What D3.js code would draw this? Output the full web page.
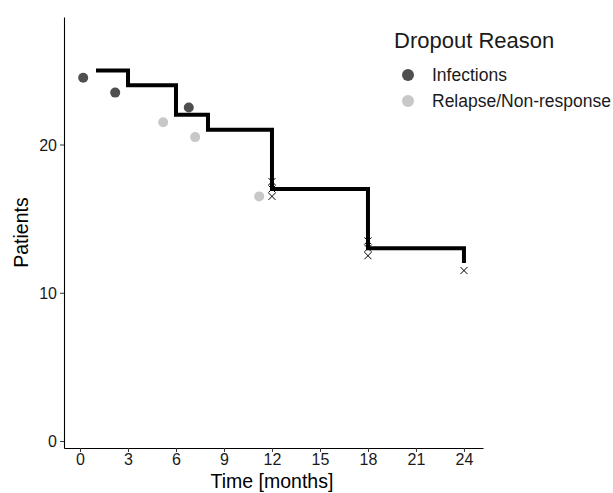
<!DOCTYPE html>
<html>
<head>
<meta charset="utf-8">
<script src="https://cdn.jsdelivr.net/npm/d3@7"></script>
<style>
  body { margin: 0; background: #fff; }
  text { font-family: "Liberation Sans", Arial, sans-serif; }
</style>
</head>
<body>
<svg id="chart" width="613" height="493"></svg>
<script>
// step curve (patients remaining)
const stepTimes = [1, 3, 6, 8, 12, 18, 24];
const stepPatients = [25, 24, 22, 21, 17, 13, 12];

// dropouts
const dropoutTimes = [0.2, 2.2, 6.8, 5.2, 7.2, 11.2];
const dropoutPatients = [24.5, 23.5, 22.5, 21.5, 20.5, 16.5];
const dropoutReasons = ["Infections", "Infections", "Infections",
  "Relapse/Non-response", "Relapse/Non-response", "Relapse/Non-response"];

// censored marks
const censorTimes = [12, 12, 12, 18, 18, 18, 24];
const censorPatients = [17.5, 17, 16.5, 13.5, 13, 12.5, 11.5];

const reasons = ["Infections", "Relapse/Non-response"];
const reasonColors = ["#4f4f4f", "#c8c8c8"];
const xTicks = [0, 3, 6, 9, 12, 15, 18, 21, 24];
const yTicks = [0, 10, 20];

const svg = d3.select("#chart");

const x = d3.scaleLinear().domain([-1.0, 25.19]).range([64, 483]);
const y = d3.scaleLinear().domain([-0.47, 28.6]).range([448, 17]);
const color = d3.scaleOrdinal().domain(reasons).range(reasonColors);

// axes
const xAxis = svg.append("g")
  .attr("transform", "translate(0,448)")
  .call(d3.axisBottom(x).tickValues(xTicks).tickSize(4).tickSizeOuter(0).tickPadding(2));
const yAxis = svg.append("g")
  .attr("transform", "translate(64,0)")
  .call(d3.axisLeft(y).tickValues(yTicks).tickSize(4).tickSizeOuter(0).tickPadding(3));

[xAxis, yAxis].forEach((g) => {
  g.selectAll("path.domain").attr("stroke", "#000").attr("stroke-width", 1.1);
  g.selectAll(".tick line").attr("stroke", "#333");
  g.selectAll(".tick text")
    .attr("fill", "#1a1a1a")
    .style("font-size", "16px")
    .style("font-family", "Liberation Sans, Arial, sans-serif");
});
yAxis.selectAll(".tick text").attr("dy", "0.35em");

// axis titles
svg.append("text")
  .attr("x", x(12))
  .attr("y", 488)
  .attr("text-anchor", "middle")
  .style("font-size", "19.5px")
  .text("Time [months]");
svg.append("text")
  .attr("transform", `translate(28,${(17 + 448) / 2}) rotate(-90)`)
  .attr("text-anchor", "middle")
  .style("font-size", "19.5px")
  .text("Patients");

// dropout points
const dropouts = dropoutTimes.map((t, i) => ({ t, p: dropoutPatients[i], r: dropoutReasons[i] }));
svg.append("g")
  .selectAll("circle")
  .data(dropouts)
  .enter()
  .append("circle")
  .attr("cx", (d) => x(d.t))
  .attr("cy", (d) => y(d.p))
  .attr("r", 5)
  .attr("fill", (d) => color(d.r));

// censor crosses
const censored = censorTimes.map((t, i) => ({ t, p: censorPatients[i] }));
svg.append("g")
  .selectAll("path")
  .data(censored)
  .enter()
  .append("path")
  .attr("transform", (d) => `translate(${x(d.t)},${y(d.p)})`)
  .attr("d", d3.symbol(d3.symbolTimes, 34))
  .attr("fill", "none")
  .attr("stroke", "#000")
  .attr("stroke-width", 1);

// step line
const steps = stepTimes.map((t, i) => ({ t, p: stepPatients[i] }));
svg.append("path")
  .datum(steps)
  .attr("fill", "none")
  .attr("stroke", "#000")
  .attr("stroke-width", 4)
  .attr("d", d3.line().x((d) => x(d.t)).y((d) => y(d.p)).curve(d3.curveStepAfter));

// legend
const legend = svg.append("g");
legend.append("text")
  .attr("x", 394)
  .attr("y", 48)
  .style("font-size", "22px")
  .attr("fill", "#1a1a1a")
  .text("Dropout Reason");
reasons.forEach((r, i) => {
  legend.append("circle")
    .attr("cx", 408)
    .attr("cy", 75 + i * 26)
    .attr("r", 6)
    .attr("fill", color(r));
  legend.append("text")
    .attr("x", 432)
    .attr("y", 75 + i * 26)
    .attr("dy", "0.35em")
    .style("font-size", "17.5px")
    .attr("fill", "#1a1a1a")
    .text(r);
});
</script>
</body>
</html>
